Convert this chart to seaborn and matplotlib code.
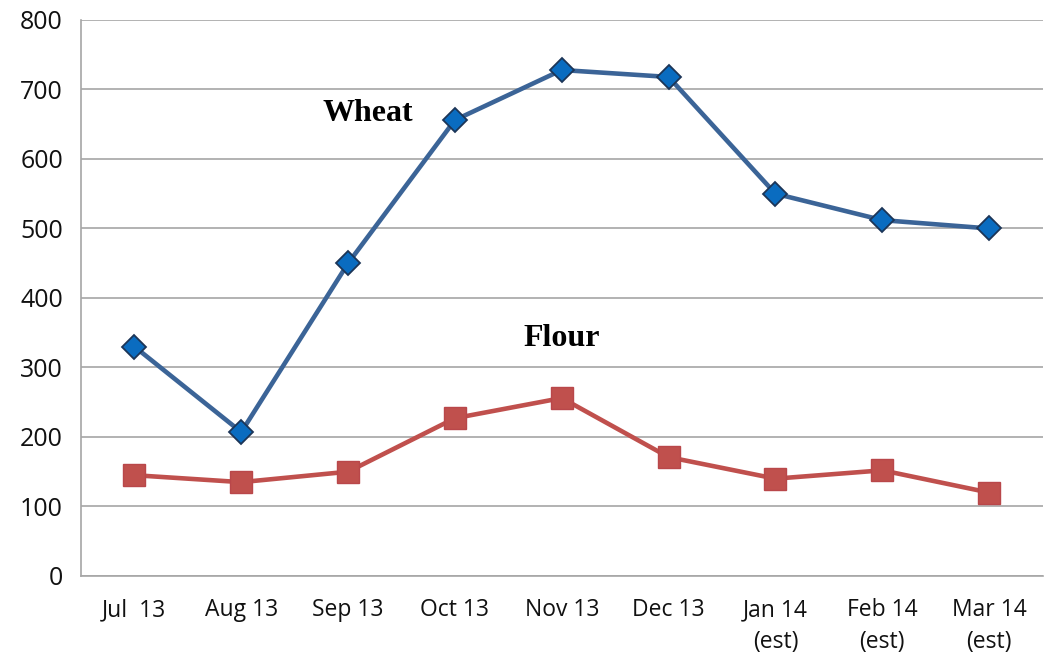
import numpy as np
import pandas as pd
import matplotlib
matplotlib.use('Agg')
import matplotlib.pyplot as plt
import seaborn as sns

# Monthly values
months = ["Jul  13", "Aug 13", "Sep 13", "Oct 13", "Nov 13", "Dec 13",
          "Jan 14\n(est)", "Feb 14\n(est)", "Mar 14\n(est)"]
wheat = [330, 207, 450, 656, 728, 718, 550, 512, 500]
flour = [145, 135, 150, 227, 256, 171, 140, 152, 120]
y_ticks = [0, 100, 200, 300, 400, 500, 600, 700, 800]

pos = np.arange(len(months))
df = pd.DataFrame({"pos": pos, "Wheat": wheat, "Flour": flour})

sns.set_theme(style="white")
plt.rcParams['font.family'] = ['Open Sans', 'DejaVu Sans']

fig = plt.figure(figsize=(10.44, 6.59), dpi=100)
ax = fig.add_axes([0.0776, 0.126, 0.921, 0.8437])

grid_col = '#a6a6a6'
for y in y_ticks:
    ax.axhline(y, color=grid_col, linewidth=1.2, zorder=0)

sns.lineplot(data=df, x="pos", y="Wheat", ax=ax, color='#3b6497',
             linewidth=3.3, marker='D', markersize=12.5,
             markerfacecolor='#0a6cc0', markeredgecolor='#1c3557',
             markeredgewidth=1.3, zorder=3)
sns.lineplot(data=df, x="pos", y="Flour", ax=ax, color='#c0504d',
             linewidth=3.3, marker='s', markersize=15.5,
             markerfacecolor='#c0504d', markeredgecolor='#b9474a',
             markeredgewidth=1, zorder=3)

ax.text(2.18, 666, "Wheat", family='Liberation Serif', fontweight='bold',
        fontsize=23, ha='center', va='center', color='black')
ax.text(4.0, 341, "Flour", family='Liberation Serif', fontweight='bold',
        fontsize=23, ha='center', va='center', color='black')

ax.set_xlim(-0.5, len(months) - 0.5)
ax.set_ylim(0, 800)
ax.set_yticks(y_ticks)
ax.set_xticks(pos)
ax.set_xticklabels(months, fontsize=16.5, linespacing=1.45, color='#111111')
ax.set_xticks(np.arange(len(months) + 1) - 0.5, minor=True)
ax.tick_params(axis='x', which='major', length=0, pad=16)
ax.tick_params(axis='x', which='minor', length=8, color=grid_col, width=1.2)
ax.tick_params(axis='y', length=8, color=grid_col, width=1.2, labelsize=18,
               pad=5, labelcolor='#111111')
ax.set_xlabel("")
ax.set_ylabel("")

for side in ['top', 'right']:
    ax.spines[side].set_visible(False)
for side in ['left', 'bottom']:
    ax.spines[side].set_color(grid_col)
    ax.spines[side].set_linewidth(1.2)

fig.savefig("out.png", dpi=100)
